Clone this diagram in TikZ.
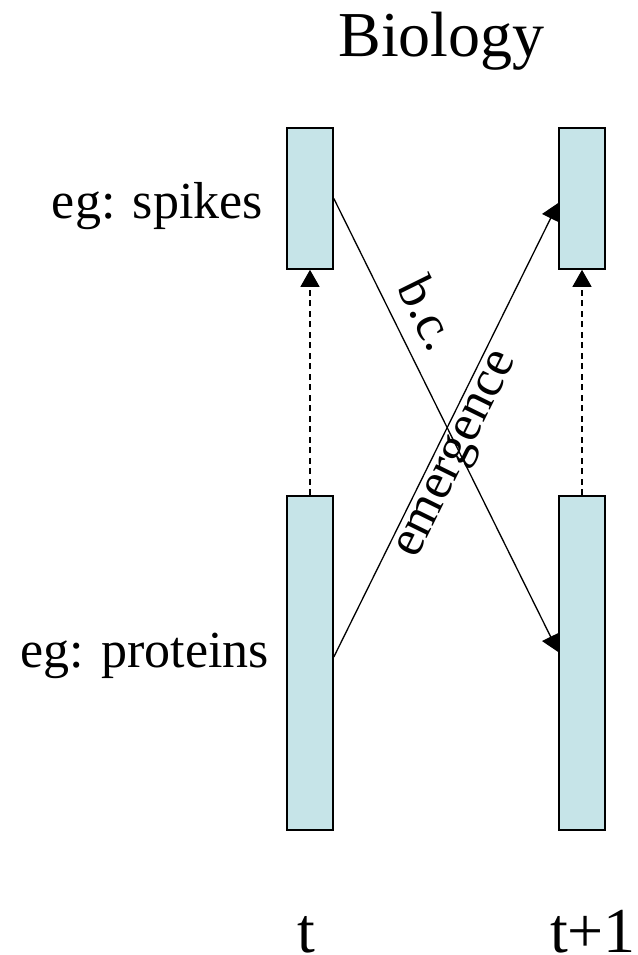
\documentclass[tikz,border=0pt]{standalone}
\usepackage{fontspec}
\setmainfont{Liberation Serif}
\usepackage{tikz}
\usetikzlibrary{arrows.meta}
\usepackage{xcolor}
\definecolor{CellCyan}{HTML}{C6E4E8}

\begin{document}
\begin{tikzpicture}[x=1pt, y=-1pt,
    bar/.style={draw=black, line width=1.6pt, fill=CellCyan,
                minimum width=46pt, inner sep=0pt},
    link/.style={line width=1.3pt, -{Triangle[length=17pt, width=19pt]}},
    sidetext/.style={inner sep=0pt, font=\fontsize{52}{60}\selectfont},
    bigtext/.style={inner sep=0pt, font=\fontsize{64}{72}\selectfont}]
  \useasboundingbox (0,0) rectangle (637,955);

  % the four levels, time t on the left and t+1 on the right
  \node[bar, minimum height=141pt] (ltop) at (310,198.5) {};
  \node[bar, minimum height=334pt] (lbot) at (310,663) {};
  \node[bar, minimum height=141pt] (rtop) at (582,198.5) {};
  \node[bar, minimum height=334pt] (rbot) at (582,663) {};

  % upward dashed links
  \draw[link, dash pattern=on 6pt off 4.5pt] (lbot.north) -- (ltop.south);
  \draw[link, dash pattern=on 6pt off 4.5pt] (rbot.north) -- (rtop.south);

  % crossing links
  \draw[link] (ltop.east) -- ([yshift=11pt]rbot.west);
  \draw[link] ([yshift=6pt]lbot.east) -- ([yshift=-4.5pt]rtop.west);
  \node[sidetext, rotate=-63.7] (bc) at (429,313) {b.c.};
  \node[sidetext, rotate=63.7] (emer) at (459,456) {emergence};

  % texts
  \node[bigtext, anchor=base] (title) at (441.5,57) {Biology};
  \node[sidetext, anchor=base east] (spikes) at (263,218) {eg: spikes};
  \node[sidetext, anchor=base east] (proteins) at (269,667) {eg: proteins};
  \node[bigtext, anchor=base] (tnow) at (306,952) {t};
  \node[bigtext, anchor=base] (tnext) at (593,952) {t+1};
\end{tikzpicture}
\end{document}
